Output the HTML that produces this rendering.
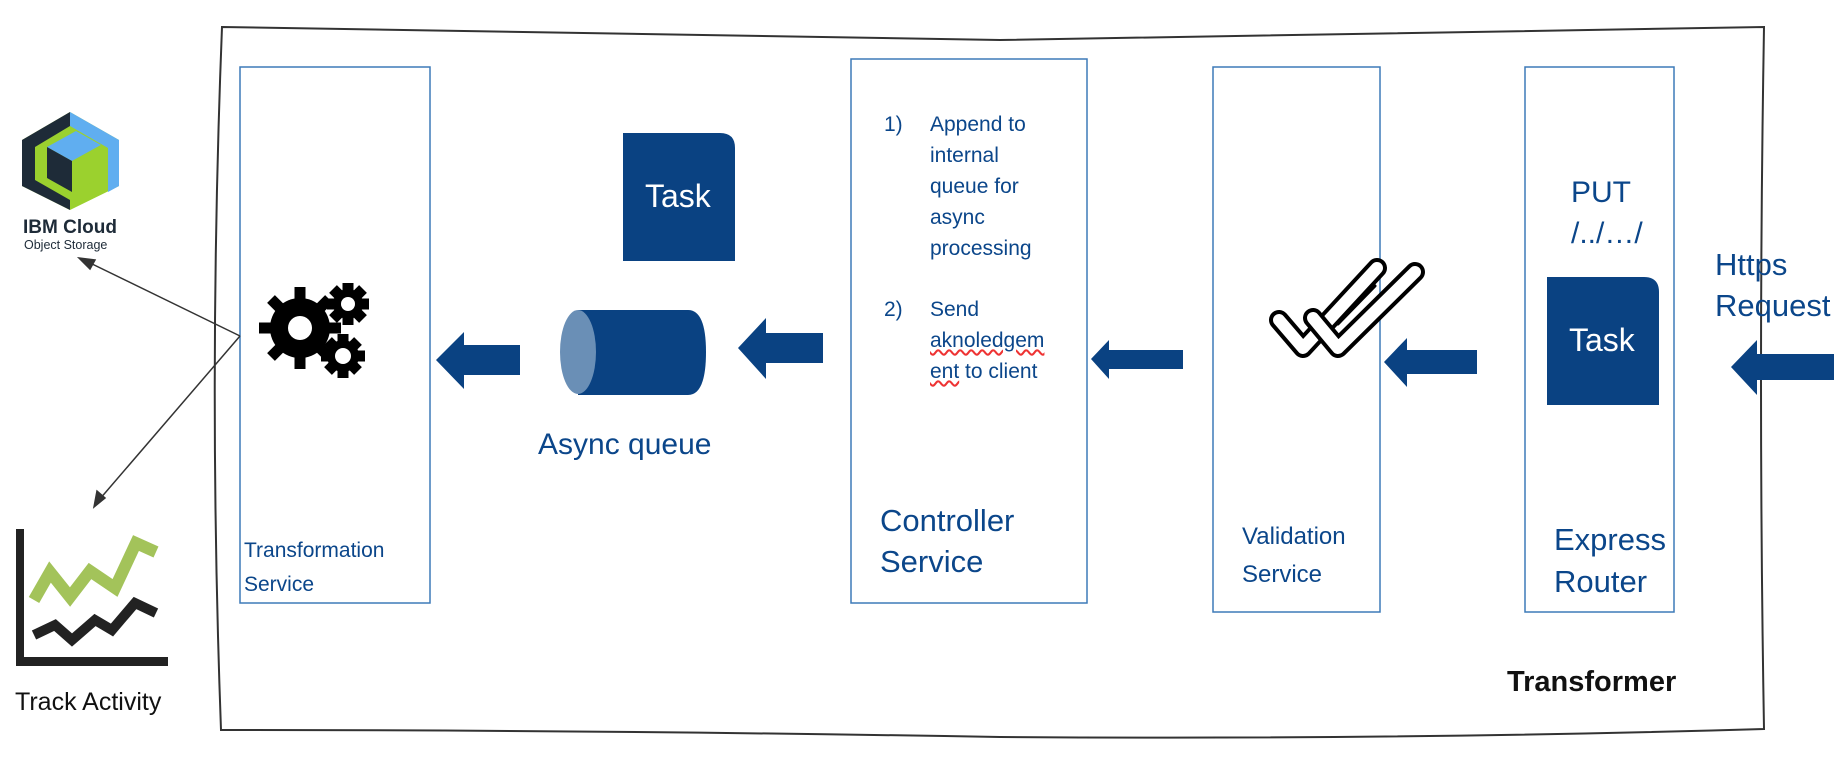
<!DOCTYPE html>
<html><head><meta charset="utf-8"><style>
body{margin:0;width:1834px;height:766px;background:#fff;position:relative;overflow:hidden;font-family:"Liberation Sans",sans-serif;}
.t{position:absolute;color:#0b468a;white-space:nowrap;}
</style></head><body>
<svg width="1834" height="766" style="position:absolute;left:0;top:0">
<path d="M222,27 Q600,34 1000,40 Q1400,32 1764,27 Q1758,380 1764,729 Q1400,740 1000,737 Q600,730 221,730 Q208,380 222,27 Z" fill="none" stroke="#333" stroke-width="2"/>
<rect x="240" y="67" width="190" height="536" fill="none" stroke="#3d7ab8" stroke-width="1.5"/>
<rect x="851" y="59" width="236" height="544" fill="none" stroke="#3d7ab8" stroke-width="1.5"/>
<rect x="1213" y="67" width="167" height="545" fill="none" stroke="#3d7ab8" stroke-width="1.5"/>
<rect x="1525" y="67" width="149" height="545" fill="none" stroke="#3d7ab8" stroke-width="1.5"/>
<g fill="#0a4282">
<polygon points="436,360 464,332 464,345 520,345 520,375 464,375 464,389"/>
<polygon points="738,348 766,318 766,333 823,333 823,363 766,363 766,379"/>
<polygon points="1091,359 1109,340 1109,350 1183,350 1183,369 1109,369 1109,379"/>
<polygon points="1384,362 1407,338 1407,350 1477,350 1477,374 1407,374 1407,387"/>
<polygon points="1731,367 1757,340 1757,354 1834,354 1834,380 1757,380 1757,395"/>
</g>
<path d="M623,133 H720 Q735,133 735,148 V261 H623 Z" fill="#0a4282"/>
<path d="M1547,277 H1644 Q1659,277 1659,292 V405 H1547 Z" fill="#0a4282"/>
<path d="M578,310 H688 Q706,310 706,352 Q706,395 688,395 H578 Z" fill="#0a4282"/>
<ellipse cx="578" cy="352" rx="18" ry="42" fill="#6a8fb6"/>
<g fill="#000">
<circle cx="300" cy="328" r="30"/>
<g stroke="#000" stroke-width="11">
<line x1="300" y1="287" x2="300" y2="369"/><line x1="259" y1="328" x2="341" y2="328"/>
<line x1="271" y1="299" x2="329" y2="357"/><line x1="329" y1="299" x2="271" y2="357"/>
<line x1="348" y1="283" x2="348" y2="325"/><line x1="327" y1="304" x2="369" y2="304"/>
<line x1="333" y1="289" x2="363" y2="319"/><line x1="363" y1="289" x2="333" y2="319"/>
<line x1="343" y1="334" x2="343" y2="378"/><line x1="321" y1="356" x2="365" y2="356"/>
<line x1="328" y1="341" x2="358" y2="371"/><line x1="358" y1="341" x2="328" y2="371"/>
</g>
<circle cx="348" cy="304" r="15"/><circle cx="343" cy="356" r="16"/>
</g>
<circle cx="300" cy="328" r="12" fill="#fff"/><circle cx="348" cy="304" r="7" fill="#fff"/><circle cx="343" cy="356" r="8" fill="#fff"/>
<!-- check icon: outlined checks -->
<g fill="none" stroke-linejoin="round" stroke-linecap="round">
<polyline points="1279,320 1303,348 1377,268" stroke="#000" stroke-width="20"/>
<polyline points="1279,320 1303,348 1377,268" stroke="#fff" stroke-width="12"/>
<polyline points="1313,318 1338,348 1415,272" stroke="#000" stroke-width="20"/>
<polyline points="1313,318 1338,348 1415,272" stroke="#fff" stroke-width="12"/>
<polyline points="1338,324 1375,286" stroke="#000" stroke-width="3"/>
</g>
<g stroke="#333" stroke-width="1.5" fill="#333">
<line x1="240" y1="336" x2="86" y2="261"/><polygon points="79,258 95,260 90,269"/>
<line x1="240" y1="336" x2="99" y2="500"/><polygon points="94,507 97,491 105,498"/>
</g>
<polygon points="22,140 70,112 119,140 119,186 70,210 22,186" fill="#9bd12e"/>
<polygon points="22,140 70,112 70,126 35,147 35,180 70,200 70,210 22,186" fill="#1e2b38"/>
<polygon points="70,112 119,140 119,186 108,192 108,148 70,126" fill="#60aef0"/>
<polygon points="47,147 76,131 101,145 72,161" fill="#60aef0"/>
<polygon points="47,147 72,161 72,192 47,178" fill="#1e2b38"/>
<polygon points="72,161 101,145 101,178 72,192" fill="#9bd12e"/>
<rect x="16" y="529" width="8" height="137" fill="#222"/>
<rect x="16" y="657" width="152" height="9" fill="#222"/>
<polyline points="34,600 50,572 70,597 90,571 115,588 136,543 156,552" fill="none" stroke="#a3c35a" stroke-width="12"/>
<polyline points="34,635 55,625 72,640 95,620 112,630 135,603 156,613" fill="none" stroke="#222" stroke-width="10"/>
</svg>
<div class="t" style="left:23px;top:217px;font-size:19px;font-weight:bold;color:#1e2b38">IBM Cloud</div>
<div class="t" style="left:24px;top:238px;font-size:12.5px;color:#1e2b38">Object Storage</div>
<div class="t" style="left:15px;top:688px;font-size:25px;color:#111">Track Activity</div>
<div class="t" style="left:244px;top:534px;font-size:21px;line-height:34px">Transformation<br>Service</div>
<div class="t" style="left:645px;top:178px;font-size:32px;color:#fff">Task</div>
<div class="t" style="left:1569px;top:322px;font-size:32px;color:#fff">Task</div>
<div class="t" style="left:538px;top:428px;font-size:30px">Async queue</div>
<div class="t" style="left:884px;top:109px;font-size:21px;line-height:31px">1)</div>
<div class="t" style="left:930px;top:109px;font-size:21px;line-height:31px">Append to<br>internal<br>queue for<br>async<br>processing</div>
<div class="t" style="left:884px;top:294px;font-size:21px;line-height:31px">2)</div>
<div class="t" style="left:930px;top:294px;font-size:21px;line-height:31px">Send<br><span style="text-decoration:underline wavy #e33">aknoledgem</span><br><span style="text-decoration:underline wavy #e33">ent</span> to client</div>
<div class="t" style="left:880px;top:500px;font-size:31px;line-height:41px">Controller<br>Service</div>
<div class="t" style="left:1242px;top:518px;font-size:24px;line-height:38px">Validation<br>Service</div>
<div class="t" style="left:1571px;top:172px;font-size:30px;line-height:41px">PUT<br>/../…/</div>
<div class="t" style="left:1554px;top:519px;font-size:31px;line-height:42px">Express<br>Router</div>
<div class="t" style="left:1715px;top:244px;font-size:31px;line-height:41px">Https<br>Request</div>
<div class="t" style="left:1507px;top:666px;font-size:29px;font-weight:bold;color:#111">Transformer</div>
</body></html>
